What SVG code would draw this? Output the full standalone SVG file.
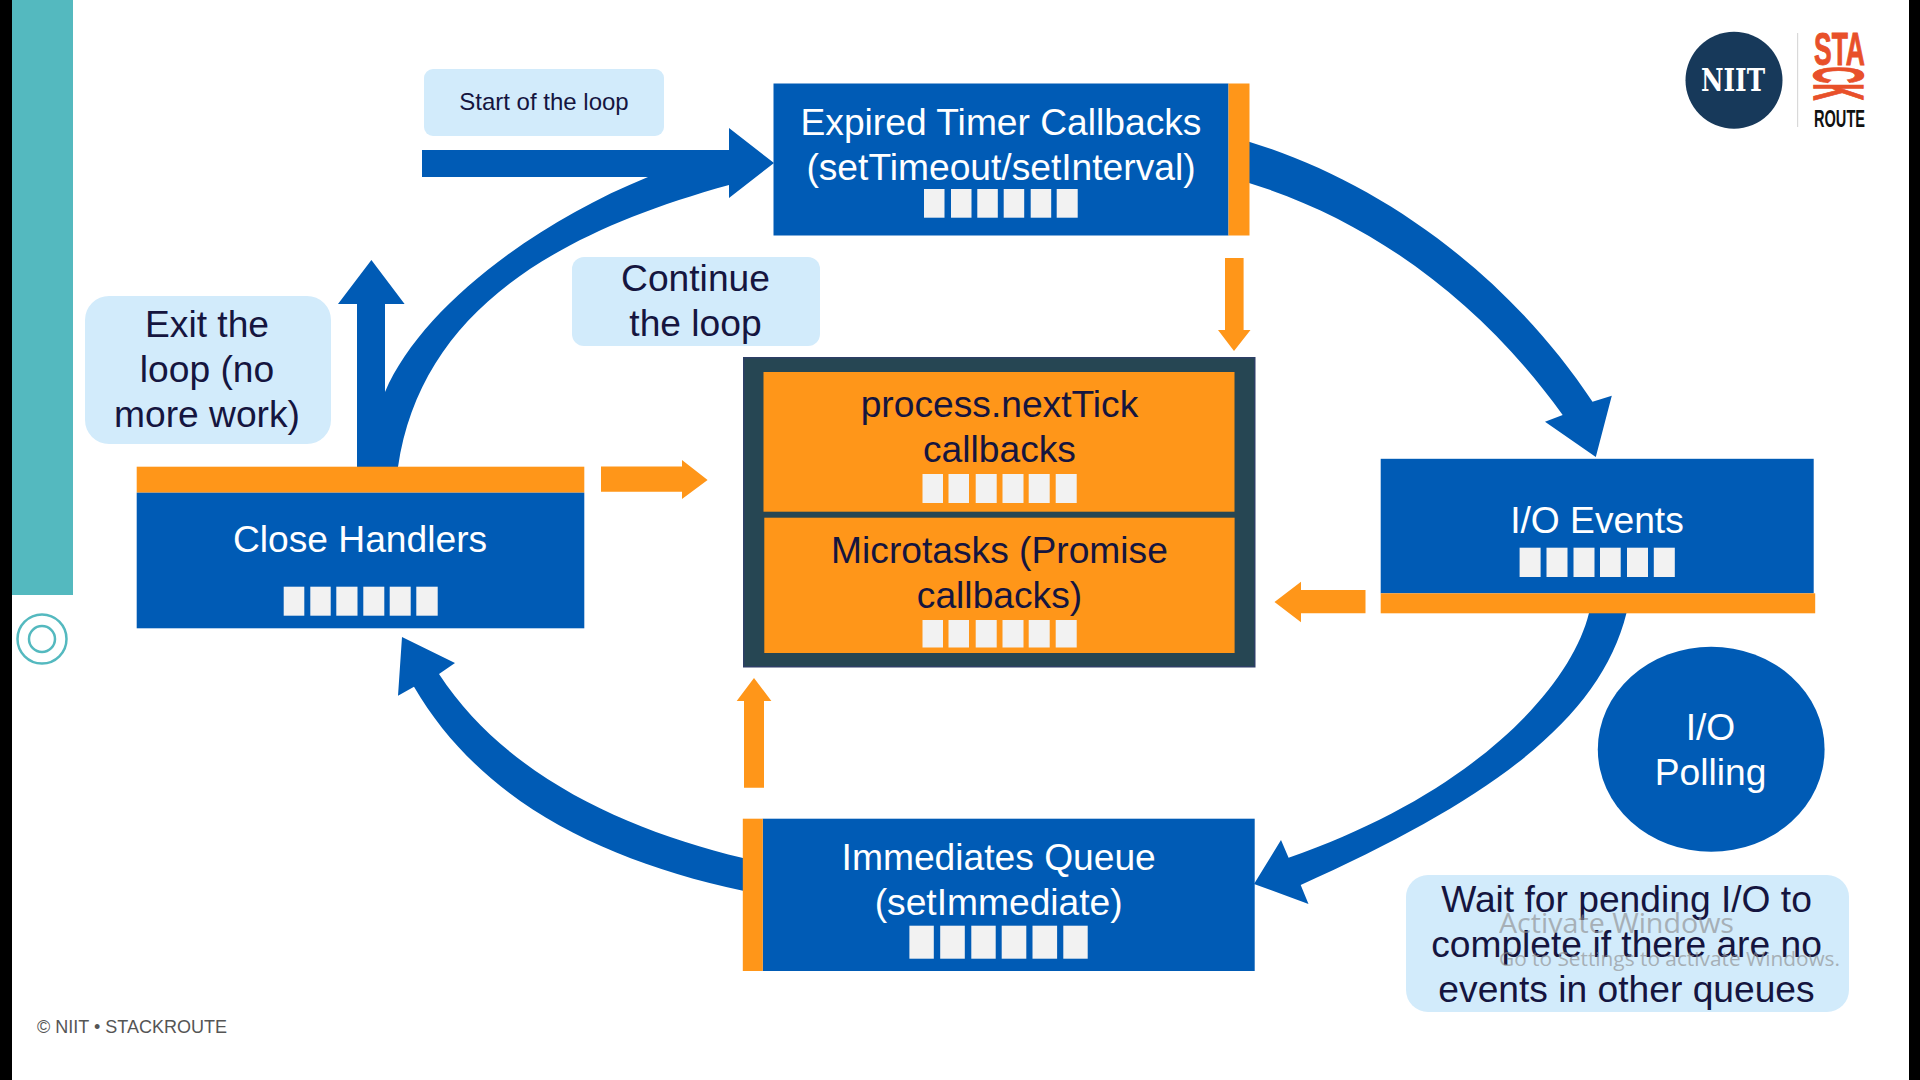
<svg xmlns="http://www.w3.org/2000/svg" width="1920" height="1080" viewBox="0 0 1920 1080">
<style>
text{font-family:"Liberation Sans",Arial,sans-serif;font-size:37.2px;text-anchor:middle}
.w{fill:#fff}.d{fill:#15153f}
.b{fill:#005bb5}.o{fill:#ff9619}.l{fill:#d2ebfb}.s{fill:#f2f2f2}
.cond{font-weight:700;text-anchor:start}
</style>
<rect width="1920" height="1080" fill="#fff"/>
<rect x="0" y="0" width="12" height="1080" fill="#000"/>
<rect x="1909" y="0" width="11" height="1080" fill="#000"/>
<rect x="12" y="0" width="61" height="595" fill="#54b9bf"/>
<g fill="none" stroke="#54b9bf" stroke-width="2.5"><circle cx="42" cy="639" r="24.5"/><circle cx="42" cy="639" r="13"/></g>
<text x="132" y="1033" style="font-size:18px;fill:#555">© NIIT • STACKROUTE</text>

<g id="logo">
<circle cx="1734" cy="80.3" r="48.5" fill="#17395a"/>
<text x="1733" y="90.7" textLength="64" lengthAdjust="spacingAndGlyphs" style="font-family:'DejaVu Serif',serif;font-weight:700;font-size:31px;fill:#fff">NIIT</text>
<rect x="1797" y="33" width="1.2" height="94" fill="#d9d9d9"/>
<text class="cond" x="1814" y="65" textLength="51" lengthAdjust="spacingAndGlyphs" style="font-size:46px;fill:#e8502a;stroke:#e8502a;stroke-width:1">STA</text>
<text class="cond" transform="translate(1814,66.5) rotate(90)" textLength="34" lengthAdjust="spacingAndGlyphs" style="font-size:71px;fill:#e8502a;stroke:#e8502a;stroke-width:1.5">CK</text>
<text class="cond" x="1814" y="127.3" textLength="51" lengthAdjust="spacingAndGlyphs" style="font-size:24px;fill:#111">ROUTE</text>
</g>

<g id="connectors">
<path class="b" d="M422 150H729V128L774 163L729 198V185C540 237 420 320 398 467H357V304H338L371.4 260L404.6 304H385V392C420 310 530 225 648 177H422Z"/>
<path class="b" d="M1249 141.7C1375 180 1505 270 1592.5 401.7L1611.8 395.7L1595.8 457L1545 421.7L1562.7 415C1480 300 1370 220 1249 183Z"/>
<path class="b" d="M1589 613C1570 690 1470 795 1288.6 857.7L1281 840L1254 884L1308.5 904L1300.7 885C1490 800 1600 720 1626.5 613Z"/>
<path class="b" d="M743 858C625 830 505 775 439 674L455 663L402 637L398 695.7L414 686.7C480 800 600 860 743 890.7Z"/>
<path class="o" d="M601 466.5H682V460L707.6 480L682 499V491.7H601Z"/>
<path class="o" d="M1225 258H1243.6V330H1250.5L1234 351L1218 330H1225Z"/>
<path class="o" d="M1365.5 590V613.3H1301V622.3L1274.5 602L1301 581.7V590Z"/>
<path class="o" d="M744 787.7V701H736.7L754 678L771.4 701H764V787.7Z"/>
</g>

<g id="start-label"><rect class="l" x="424" y="69" width="240" height="67" rx="9"/><text class="d" x="544" y="109.5" style="font-size:24px">Start of the loop</text></g>
<g id="continue-label"><rect class="l" x="572" y="257" width="248" height="89" rx="12"/><text class="d" x="695.5" y="291">Continue</text><text class="d" x="695.5" y="336">the loop</text></g>
<g id="exit-label"><rect class="l" x="85" y="296" width="246" height="148" rx="24"/><text class="d" x="207" y="337">Exit the</text><text class="d" x="207" y="382">loop (no</text><text class="d" x="207" y="427">more work)</text></g>
<g id="wait-label"><rect class="l" x="1406" y="875" width="443" height="137" rx="22"/><text class="d" x="1626.5" y="912">Wait for pending I/O to</text><text class="d" x="1626.5" y="957">complete if there are no</text><text class="d" x="1626.5" y="1002">events in other queues</text></g>

<g id="expired-timers">
<rect class="b" x="773.5" y="83.5" width="455" height="152"/><rect class="o" x="1228.5" y="83.5" width="21" height="152"/>
<text class="w" x="1001" y="134.5">Expired Timer Callbacks</text><text class="w" x="1001" y="179.5">(setTimeout/setInterval)</text>
<g class="s"><rect x="924" y="189" width="20.5" height="28.7"/><rect x="951" y="189" width="20.5" height="28.7"/><rect x="977.3" y="189" width="20.5" height="28.7"/><rect x="1003.7" y="189" width="20.5" height="28.7"/><rect x="1030.7" y="189" width="20.5" height="28.7"/><rect x="1056.7" y="189" width="21" height="28.7"/></g>
</g>

<g id="microtask-queues">
<rect x="743" y="357" width="512.5" height="310.5" fill="#2d3f66"/><rect x="744.5" y="358.5" width="509.5" height="307.5" fill="#264653"/>
<rect class="o" x="763.5" y="372" width="471" height="139.7"/><rect class="o" x="764.3" y="517.7" width="470.3" height="135.3"/>
<text class="d" x="999.5" y="417">process.nextTick</text><text class="d" x="999.5" y="462">callbacks</text>
<text class="d" x="999.5" y="563">Microtasks (Promise</text><text class="d" x="999.5" y="608">callbacks)</text>
<g class="s"><rect x="922.5" y="474" width="20.5" height="29"/><rect x="948.5" y="474" width="20.5" height="29"/><rect x="975.7" y="474" width="21" height="29"/><rect x="1002.5" y="474" width="21" height="29"/><rect x="1028.7" y="474" width="21" height="29"/><rect x="1055.7" y="474" width="21" height="29"/>
<rect x="922.5" y="620" width="20.5" height="27.5"/><rect x="948.5" y="620" width="20.5" height="27.5"/><rect x="975.7" y="620" width="21" height="27.5"/><rect x="1002.5" y="620" width="21" height="27.5"/><rect x="1028.7" y="620" width="21" height="27.5"/><rect x="1055.7" y="620" width="21" height="27.5"/></g>
</g>

<g id="io-events">
<rect class="b" x="1380.7" y="458.8" width="433" height="134.5"/><rect class="o" x="1380.7" y="593.3" width="434.5" height="20"/>
<text class="w" x="1597" y="532.5">I/O Events</text>
<g class="s"><rect x="1519.6" y="547.7" width="21" height="29.3"/><rect x="1546.5" y="547.7" width="21" height="29.3"/><rect x="1573.5" y="547.7" width="21" height="29.3"/><rect x="1600" y="547.7" width="20.7" height="29.3"/><rect x="1627" y="547.7" width="21" height="29.3"/><rect x="1653.8" y="547.7" width="21" height="29.3"/></g>
</g>

<g id="io-polling"><ellipse class="b" cx="1711.2" cy="749.2" rx="113.4" ry="102.5"/><text class="w" x="1710.5" y="740">I/O</text><text class="w" x="1710.5" y="785">Polling</text></g>

<g id="immediates-queue">
<rect class="b" x="762.7" y="818.7" width="492" height="152.3"/><rect class="o" x="742.8" y="818.7" width="20" height="152.3"/>
<text class="w" x="998.7" y="870">Immediates Queue</text><text class="w" x="998.7" y="915">(setImmediate)</text>
<g class="s"><rect x="909.4" y="925.7" width="24.4" height="33"/><rect x="940.2" y="925.7" width="24.6" height="33"/><rect x="971.3" y="925.7" width="24.4" height="33"/><rect x="1001.7" y="925.7" width="24.6" height="33"/><rect x="1032.5" y="925.7" width="24.6" height="33"/><rect x="1063.3" y="925.7" width="24.4" height="33"/></g>
</g>

<g id="close-handlers">
<rect class="o" x="136.7" y="466.7" width="447.6" height="26"/><rect class="b" x="136.7" y="492.7" width="447.6" height="135.6"/>
<text class="w" x="360" y="552.3">Close Handlers</text>
<g class="s"><rect x="283.7" y="586.7" width="20.6" height="29"/><rect x="310.3" y="586.7" width="20.4" height="29"/><rect x="336.3" y="586.7" width="21.2" height="29"/><rect x="363.3" y="586.7" width="21" height="29"/><rect x="389.7" y="586.7" width="21" height="29"/><rect x="416.3" y="586.7" width="21.4" height="29"/></g>
</g>

<g id="watermark" opacity="0.62">
<text x="1499" y="933" textLength="235" lengthAdjust="spacingAndGlyphs" style="font-family:'Open Sans',sans-serif;font-size:27px;text-anchor:start;fill:#8c8c8c">Activate Windows</text>
<text x="1499" y="966" textLength="341" lengthAdjust="spacingAndGlyphs" style="font-family:'Open Sans',sans-serif;font-size:20px;text-anchor:start;fill:#8c8c8c">Go to Settings to activate Windows.</text>
</g>
</svg>
